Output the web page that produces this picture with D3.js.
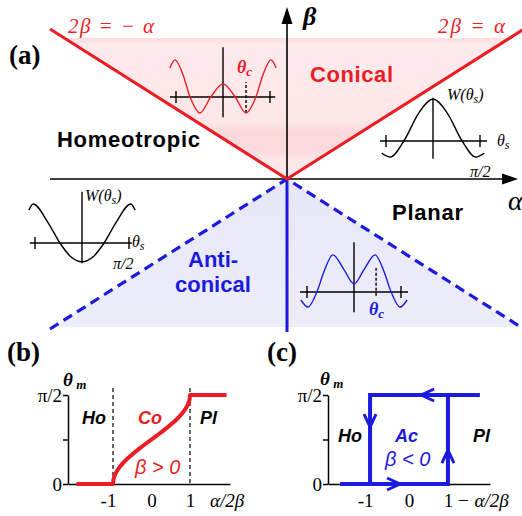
<!DOCTYPE html>
<html><head><meta charset="utf-8">
<script src="https://cdn.jsdelivr.net/npm/d3@7"></script>
<style>html,body{margin:0;padding:0;background:#fff;} svg{display:block;}</style>
</head><body><svg id="chart" width="522" height="516"></svg>
<script>
// ================= DATA =================
// Panel (a): phase boundaries in (alpha, beta) space
const conicalBoundary = [[-1, 0.5], [0, 0], [1, 0.5]];        // 2β = ±α  (β > 0)
const anticonicalBoundary = [[-1, -0.5], [0, 0], [1, -0.5]];  // β < 0, dashed
const acPlBoundary = [[0, 0], [0, -0.51]];                    // α = 0, β < 0
const conicalShade = [[-0.94, 0.47], [0, 0], [0.94, 0.47]];
const anticonicalShade = [[-0.986, -0.493], [0, 0], [0.986, -0.493]];
const phaseNames = ["Homeotropic", "Conical", "Planar", "Anti-", "conical"];
const boundaryLabels = ["2β = − α", "2β = α"];

// Inset potentials W(θs): θ in units of π/2, W arbitrary units
const wConicalTheta = [-1.13, -1.02, -0.85, -0.70, -0.49, -0.26, 0, 0.26, 0.49, 0.70, 0.85, 1.02, 1.13];
const wConicalW     = [0.62, 0.79, 0.47, 0, -0.34, 0, 0.28, 0, -0.34, 0, 0.47, 0.79, 0.62];
const wPlanarTheta  = [-1.09, -0.91, -0.62, -0.30, 0, 0.30, 0.62, 0.91, 1.09];
const wPlanarW      = [-0.26, -0.34, 0, 0.60, 0.89, 0.60, 0, -0.34, -0.26];
const wHomeoTheta   = [-1.13, -1.04, -0.72, -0.47, -0.25, 0, 0.25, 0.47, 0.72, 1.04, 1.13];
const wHomeoW       = [0.70, 0.83, 0.43, 0, -0.28, -0.40, -0.28, 0, 0.43, 0.83, 0.70];
const wAntiTheta    = [-1.13, -0.98, -0.79, -0.64, -0.45, -0.21, 0, 0.21, 0.45, 0.64, 0.79, 0.98, 1.13];
const wAntiW        = [-0.17, -0.32, 0, 0.43, 0.79, 0.47, 0.17, 0.47, 0.79, 0.43, 0, -0.32, -0.17];
const thetaCConical = 0.49;
const thetaCAnti = 0.47;

// Panel (b): θm (units of π/2) vs α/2β, β > 0
const coX = [-1.95, -1, -0.995, -0.98, -0.95, -0.9, -0.8, -0.65, -0.5, -0.3, -0.15, 0, 0.15, 0.3, 0.5, 0.65, 0.8, 0.9, 0.95, 0.98, 0.995, 1, 1.95];
const coY = [0, 0, 0.032, 0.064, 0.101, 0.144, 0.205, 0.275, 0.333, 0.403, 0.452, 0.5, 0.548, 0.597, 0.667, 0.725, 0.795, 0.856, 0.899, 0.936, 0.968, 1, 1];

// Panel (c): hysteresis loop, θm (units of π/2) vs −α/2β, β < 0
const acLowerBranch = [[-1.77, 0], [1, 0], [1, 1]];
const acUpperBranch = [[1.82, 1], [-1, 1], [-1, 0]];
const acArrows = [
  {x: 0.31, y: 1, dir: "left"},
  {x: -1, y: 0.64, dir: "down"},
  {x: -0.23, y: 0, dir: "right"},
  {x: 1, y: 0.38, dir: "up"}
];

// Tick labels
const yTickValues = [0, 0.5, 1];
const yTickLabels = ["0", "", "π/2"];
const xTickValues = [-1, 0, 1];
const xTickLabels = ["-1", "0", "1"];

// ================= DRAWING =================
const RED = "#ec1c24", BLUE = "#1a1ae0";
const svg = d3.select("#chart");
const defs = svg.append("defs");

// main scales (panel a)
const xA = d3.scaleLinear().domain([-1, 1]).range([50, 524]);
const yA = d3.scaleLinear().domain([-0.5, 0.5]).range([329, 29]);
const lineA = d3.line().x(d => xA(d[0])).y(d => yA(d[1]));

// gradients
const pg = defs.append("linearGradient").attr("id", "pinkG").attr("x1", 0).attr("x2", 0).attr("y1", 0).attr("y2", 1);
[[0, "#fbdde0"], [0.05, "#fdeaec"], [0.6, "#fde6e8"], [0.66, "#fbdadd"], [0.8, "#fbdadd"], [0.86, "#fde6e8"], [1, "#fde8ea"]]
  .forEach(s => pg.append("stop").attr("offset", s[0]).attr("stop-color", s[1]));
const bg = defs.append("linearGradient").attr("id", "blueG").attr("x1", 0).attr("x2", 0).attr("y1", 0).attr("y2", 1);
[[0, "#e6e6f7"], [1, "#ededfa"]].forEach(s => bg.append("stop").attr("offset", s[0]).attr("stop-color", s[1]));

svg.append("path").attr("d", lineA(conicalShade) + "Z").attr("fill", "url(#pinkG)");
svg.append("path").attr("d", lineA(anticonicalShade) + "Z").attr("fill", "url(#blueG)");

// axes of panel a
svg.append("line").attr("x1", xA(-1)).attr("x2", xA(0.96)).attr("y1", yA(0)).attr("y2", yA(0))
  .attr("stroke", "#000").attr("stroke-width", 1.6);
svg.append("path").attr("d", `M${xA(0.975)},${yA(0)} L${xA(0.975) - 16},${yA(0) - 5.5} L${xA(0.975) - 16},${yA(0) + 5.5}Z`).attr("fill", "#000");
svg.append("line").attr("x1", xA(0)).attr("x2", xA(0)).attr("y1", yA(0)).attr("y2", yA(0.54))
  .attr("stroke", "#000").attr("stroke-width", 1.6);
svg.append("path").attr("d", `M${xA(0)},${yA(0.573)} L${xA(0) - 5.5},${yA(0.573) + 17} L${xA(0) + 5.5},${yA(0.573) + 17}Z`).attr("fill", "#000");

// boundaries
svg.append("path").attr("d", lineA(anticonicalBoundary)).attr("fill", "none").attr("stroke", BLUE)
  .attr("stroke-width", 3.2).attr("stroke-dasharray", "10,6");
svg.append("path").attr("d", lineA(acPlBoundary)).attr("fill", "none").attr("stroke", BLUE).attr("stroke-width", 3);
svg.append("path").attr("d", lineA(conicalBoundary)).attr("fill", "none").attr("stroke", RED).attr("stroke-width", 3);

// text helpers
function txt(x, y, s, o) {
  const t = svg.append("text").attr("x", x).attr("y", y).text(s);
  Object.entries(o || {}).forEach(([k, v]) => t.attr(k, v));
  return t;
}
const SANS = "'Liberation Sans', Arial, sans-serif";
const SERIF = "'Liberation Serif', 'Times New Roman', serif";

txt(9, 64, "(a)", {"font-family": SERIF, "font-weight": "bold", "font-size": 27});
txt(68, 33, boundaryLabels[0], {"font-family": SERIF, "font-style": "italic", "font-size": 21, fill: RED, "textLength": 86});
txt(438, 33, boundaryLabels[1], {"font-family": SERIF, "font-style": "italic", "font-size": 21, fill: RED, "textLength": 67});
txt(303, 25, "β", {"font-family": SERIF, "font-style": "italic", "font-weight": "bold", "font-size": 26});
txt(508, 210, "α", {"font-family": SERIF, "font-style": "italic", "font-size": 28});

const phaseStyle = {"font-family": SANS, "font-weight": "bold", "font-size": 22};
txt(57, 147, phaseNames[0], Object.assign({}, phaseStyle, {textLength: 143}));
txt(310, 82, phaseNames[1], Object.assign({}, phaseStyle, {fill: RED, textLength: 83}));
txt(392, 220, phaseNames[2], Object.assign({}, phaseStyle, {textLength: 71}));
txt(188, 267, phaseNames[3], Object.assign({}, phaseStyle, {fill: BLUE}));
txt(175, 292, phaseNames[4], Object.assign({}, phaseStyle, {fill: BLUE}));

// insets
function drawInset(cfg, th, w) {
  const g = svg.append("g");
  const sx = d3.scaleLinear().domain([-1, 1]).range([cfg.cx - 47, cfg.cx + 47]);
  const sy = d3.scaleLinear().domain([-1, 1]).range([cfg.cy + 47, cfg.cy - 47]);
  g.append("line").attr("x1", sx(cfg.h[0])).attr("x2", sx(cfg.h[1])).attr("y1", sy(0)).attr("y2", sy(0)).attr("stroke", "#000").attr("stroke-width", 1.4);
  g.append("line").attr("x1", sx(0)).attr("x2", sx(0)).attr("y1", sy(cfg.v[0])).attr("y2", sy(cfg.v[1])).attr("stroke", "#000").attr("stroke-width", 1.4);
  [-1, 1].forEach(t => g.append("line").attr("x1", sx(t)).attr("x2", sx(t)).attr("y1", sy(0) - 6).attr("y2", sy(0) + 6).attr("stroke", "#000").attr("stroke-width", 1.4));
  if (cfg.tc !== undefined) {
    g.append("line").attr("x1", sx(cfg.tc)).attr("x2", sx(cfg.tc)).attr("y1", sy(cfg.tcy[0])).attr("y2", sy(cfg.tcy[1]))
      .attr("stroke", "#000").attr("stroke-width", 1.4).attr("stroke-dasharray", "3,2");
  }
  const pts = th.map((t, i) => [t, w[i]]);
  g.append("path").attr("d", d3.line().x(d => sx(d[0])).y(d => sy(d[1])).curve(d3.curveMonotoneX)(pts))
    .attr("fill", "none").attr("stroke", cfg.color).attr("stroke-width", 1.4);
  return {sx, sy};
}
drawInset({cx: 223, cy: 97, color: RED, h: [-1.13, 1.11], v: [-0.43, 1.06], tc: thetaCConical, tcy: [-0.34, 0.32]}, wConicalTheta, wConicalW);
drawInset({cx: 433, cy: 141, color: "#000", h: [-1.13, 1.15], v: [-0.38, 0.92]}, wPlanarTheta, wPlanarW);
drawInset({cx: 82, cy: 243, color: "#000", h: [-1.11, 1.06], v: [-0.43, 1.09]}, wHomeoTheta, wHomeoW);
drawInset({cx: 354, cy: 292, color: BLUE, h: [-1.15, 1.15], v: [-0.43, 1.06], tc: thetaCAnti, tcy: [-0.08, 0.51]}, wAntiTheta, wAntiW);

function thetaSub(x, y, main, sub, o, subSize) {
  const t = txt(x, y, "", o);
  t.append("tspan").text(main);
  t.append("tspan").attr("font-size", subSize).attr("dy", 3).text(sub);
  return t;
}
const insetLbl = {"font-family": SERIF, "font-style": "italic", "font-size": 16};
thetaSub(237, 73, "θ", "c", {"font-family": SERIF, "font-style": "italic", "font-weight": "bold", "font-size": 18, fill: RED}, 13);
thetaSub(369, 315, "θ", "c", {"font-family": SERIF, "font-style": "italic", "font-weight": "bold", "font-size": 18, fill: BLUE}, 13);
const w1 = txt(447, 100, "", insetLbl); w1.append("tspan").text("W(θ"); w1.append("tspan").attr("font-size", 12).attr("dy", 3).text("s"); w1.append("tspan").attr("dy", -3).text(")");
const w2 = txt(85, 201, "", insetLbl); w2.append("tspan").text("W(θ"); w2.append("tspan").attr("font-size", 12).attr("dy", 3).text("s"); w2.append("tspan").attr("dy", -3).text(")");
thetaSub(497, 146, "θ", "s", insetLbl, 12);
thetaSub(132, 247, "θ", "s", insetLbl, 12);
txt(470, 177, "π/2", insetLbl);
txt(113, 269, "π/2", insetLbl);

// ================= Panels (b) and (c) =================
const yB = d3.scaleLinear().domain([0, 1]).range([484, 395]);
const xB = d3.scaleLinear().domain([-2.17, 2.04]).range([68, 230]);
const yC = d3.scaleLinear().domain([0, 1]).range([484, 395]);
const xC = d3.scaleLinear().domain([-2.08, 2.08]).range([328, 490]);

function panelAxes(xs, ys, xLabel, xLabelX) {
  const gy = svg.append("g").attr("transform", `translate(${xs.range()[0]},0)`)
    .call(d3.axisLeft(ys).tickValues(yTickValues).tickFormat((d, i) => yTickLabels[i]).tickSize(5).tickSizeOuter(0).tickPadding(1));
  gy.attr("font-family", SERIF);
  gy.select(".domain").attr("stroke-width", 1.5);
  gy.selectAll(".tick line").attr("stroke-width", 1.5);
  gy.selectAll("text").attr("font-family", SERIF).attr("font-size", 19).attr("fill", "#000");
  const gx = svg.append("g").attr("transform", `translate(0,${ys(0)})`)
    .call(d3.axisBottom(xs).tickValues(xTickValues).tickFormat((d, i) => xTickLabels[i]).tickSize(0).tickSizeOuter(0).tickPadding(10));
  gx.attr("font-family", SERIF);
  gx.select(".domain").attr("stroke-width", 1.5);
  gx.selectAll("text").attr("font-family", SERIF).attr("font-size", 19).attr("fill", "#000").attr("dy", "0.71em");
  gx.selectAll(".tick text").filter((d) => d === -1).attr("dx", -5);
  txt(xLabelX, 507, xLabel, {"font-family": SERIF, "font-style": "italic", "font-size": 19});
}

txt(7, 361, "(b)", {"font-family": SERIF, "font-weight": "bold", "font-size": 27});
panelAxes(xB, yB, "α/2β", 210);
[-1, 1].forEach(v => svg.append("line").attr("x1", xB(v)).attr("x2", xB(v)).attr("y1", 388).attr("y2", yB(0))
  .attr("stroke", "#000").attr("stroke-width", 1.2).attr("stroke-dasharray", "4,3"));
svg.append("path").attr("d", d3.line().x((d, i) => xB(coX[i])).y((d, i) => yB(coY[i])).curve(d3.curveMonotoneX)(coX))
  .attr("fill", "none").attr("stroke", RED).attr("stroke-width", 4).attr("stroke-linejoin", "round");
const thetaMStyle = {"font-family": SERIF, "font-style": "italic", "font-weight": "bold", "font-size": 19};
thetaSub(63, 386, "θ", " m", thetaMStyle, 13);
const regStyle = {"font-family": SANS, "font-style": "italic", "font-weight": "bold", "font-size": 18};
txt(82, 424, "Ho", regStyle);
txt(138, 424, "Co", Object.assign({}, regStyle, {fill: RED}));
txt(200, 424, "Pl", regStyle);
txt(135, 474, "β > 0", {"font-family": SANS, "font-style": "italic", "font-size": 20, fill: RED});

txt(267, 361, "(c)", {"font-family": SERIF, "font-weight": "bold", "font-size": 27});
panelAxes(xC, yC, "− α/2β", 457);
const lineC = d3.line().x(d => xC(d[0])).y(d => yC(d[1]));
[acLowerBranch, acUpperBranch].forEach(b => svg.append("path").attr("d", lineC(b)).attr("fill", "none")
  .attr("stroke", BLUE).attr("stroke-width", 4).attr("stroke-linejoin", "miter"));
const dirs = {left: [1, 0], right: [-1, 0], up: [0, 1], down: [0, -1]};
acArrows.forEach(a => {
  const tx = xC(a.x), ty = yC(a.y);
  const [bx, by] = dirs[a.dir];
  const L = 13, W = 6;
  const px = -by, py = bx;
  svg.append("path").attr("d", `M${tx + bx * L + px * W},${ty + by * L + py * W} L${tx},${ty} L${tx + bx * L - px * W},${ty + by * L - py * W}`)
    .attr("fill", "none").attr("stroke", BLUE).attr("stroke-width", 3).attr("stroke-linejoin", "miter");
});
thetaSub(320, 385, "θ", " m", thetaMStyle, 13);
txt(338, 442, "Ho", regStyle);
txt(395, 442, "Ac", Object.assign({}, regStyle, {fill: BLUE}));
txt(473, 442, "Pl", regStyle);
txt(385, 466, "β < 0", {"font-family": SANS, "font-style": "italic", "font-size": 20, fill: BLUE});
</script></body></html>
